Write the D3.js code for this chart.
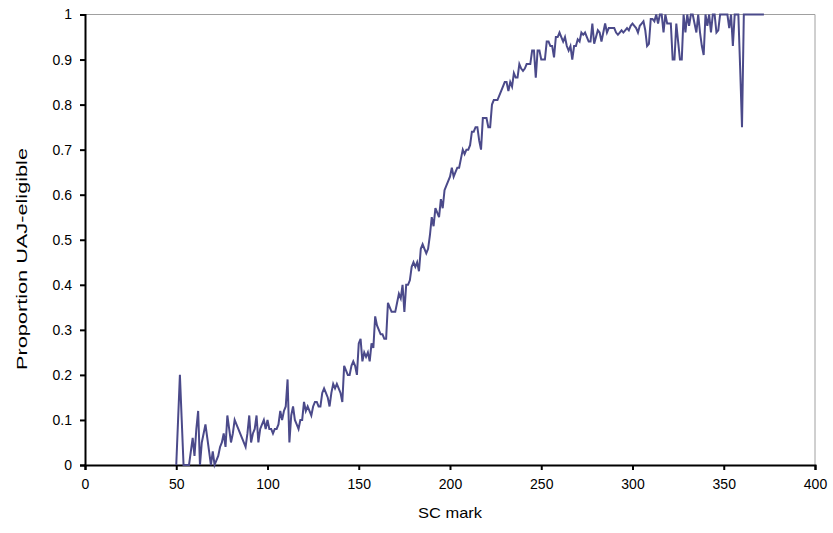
<!DOCTYPE html>
<html>
<head>
<meta charset="utf-8">
<script src="https://cdn.jsdelivr.net/npm/d3@7"></script>
<style>
  body { margin: 0; background: #fff; }
  svg { display: block; font-family: Arial, "Liberation Sans", sans-serif; }
</style>
</head>
<body>
<svg id="chart" width="833" height="533"></svg>
<script>
// SC mark of the first point, then one proportion per mark
const firstMark = 50;
const proportion = [
  0, 0.1, 0.2, 0.1, 0, 0, 0, 0, 0.03, 0.06,
  0.02, 0.08, 0.12, 0, 0.05, 0.07, 0.09, 0.06, 0.03, 0,
  0.03, 0, 0.01, 0.02, 0.04, 0.05, 0.07, 0.04, 0.11, 0.08,
  0.05, 0.07, 0.1, 0.09, 0.08, 0.07, 0.06, 0.05, 0.04, 0.07,
  0.11, 0.05, 0.07, 0.08, 0.11, 0.05, 0.08, 0.09, 0.1, 0.08,
  0.1, 0.08, 0.08, 0.07, 0.08, 0.08, 0.09, 0.12, 0.1, 0.12,
  0.13, 0.19, 0.05, 0.11, 0.13, 0.1, 0.09, 0.08, 0.1, 0.1,
  0.14, 0.12, 0.13, 0.12, 0.11, 0.13, 0.14, 0.14, 0.13, 0.13,
  0.16, 0.17, 0.16, 0.15, 0.13, 0.16, 0.18, 0.17, 0.18, 0.17,
  0.16, 0.14, 0.22, 0.21, 0.2, 0.2, 0.22, 0.23, 0.22, 0.2,
  0.27, 0.28, 0.23, 0.25, 0.24, 0.25, 0.23, 0.27, 0.26, 0.33,
  0.31, 0.3, 0.29, 0.29, 0.28, 0.28, 0.36, 0.35, 0.34, 0.34,
  0.34, 0.36, 0.38, 0.37, 0.4, 0.34, 0.4, 0.4, 0.41, 0.44,
  0.45, 0.44, 0.45, 0.43, 0.48, 0.49, 0.48, 0.47, 0.48, 0.51,
  0.55, 0.53, 0.57, 0.56, 0.55, 0.59, 0.57, 0.61, 0.62, 0.63,
  0.64, 0.66, 0.64, 0.65, 0.66, 0.66, 0.68, 0.7, 0.69, 0.7,
  0.7, 0.71, 0.74, 0.74, 0.75, 0.75, 0.72, 0.7, 0.77, 0.77,
  0.77, 0.75, 0.75, 0.8, 0.81, 0.81, 0.81, 0.82, 0.83, 0.84,
  0.85, 0.85, 0.83, 0.85, 0.84, 0.87, 0.86, 0.86, 0.89, 0.88,
  0.875, 0.88, 0.89, 0.89, 0.89, 0.92, 0.92, 0.86, 0.92, 0.92,
  0.9, 0.9, 0.9, 0.94, 0.94, 0.93, 0.93, 0.905, 0.95, 0.95,
  0.96, 0.95, 0.94, 0.95, 0.93, 0.92, 0.93, 0.9, 0.93, 0.93,
  0.945, 0.94, 0.96, 0.955, 0.96, 0.95, 0.94, 0.94, 0.98, 0.935,
  0.95, 0.965, 0.96, 0.94, 0.96, 0.98, 0.96, 0.97, 0.97, 0.97,
  0.97, 0.96, 0.955, 0.96, 0.965, 0.96, 0.965, 0.97, 0.965, 0.975,
  0.98, 0.975, 0.97, 0.96, 0.975, 0.98, 0.985, 0.965, 0.93, 0.935,
  0.99, 0.99, 0.985, 1, 0.98, 1, 1, 0.96, 1, 0.98,
  0.98, 0.98, 0.9, 0.9, 0.98, 0.94, 0.9, 0.9, 1, 0.96,
  1, 0.975, 1, 1, 0.98, 0.96, 1, 0.96, 0.93, 0.91,
  1, 0.975, 1, 0.96, 1, 1, 0.96, 0.965, 1, 1,
  1, 1, 1, 0.97, 1, 0.93, 1, 1, 1, 0.88,
  0.75, 1, 1, 1, 1, 1, 1, 1, 1, 1,
  1, 1, 1
];
const xTicks = [0, 50, 100, 150, 200, 250, 300, 350, 400];
const yTicks = [0, 0.1, 0.2, 0.3, 0.4, 0.5, 0.6, 0.7, 0.8, 0.9, 1];
const xTitle = "SC mark";
const yTitle = "Proportion UAJ-eligible";

const svg = d3.select("#chart");
const plot = { left: 85, right: 815, top: 14.5, bottom: 465 };

const x = d3.scaleLinear().domain([0, 400]).range([plot.left, plot.right]);
const y = d3.scaleLinear().domain([0, 1]).range([plot.bottom, plot.top]);

const points = proportion.map((v, i) => ({ mark: firstMark + i, value: v }));

// Grey frame on the top and right
svg.append("path")
    .attr("d", `M${plot.left},${plot.top}H${plot.right}V${plot.bottom}`)
    .attr("fill", "none")
    .attr("stroke", "#a0a0a0")
    .attr("stroke-width", 1);

// Axes
const xAxis = svg.append("g")
    .attr("transform", `translate(0,${plot.bottom})`)
    .call(d3.axisBottom(x).tickValues(xTicks).tickSize(5).tickPadding(9).tickFormat(d3.format("d")));

const yAxis = svg.append("g")
    .attr("transform", `translate(${plot.left},0)`)
    .call(d3.axisLeft(y).tickValues(yTicks).tickSize(5).tickPadding(8).tickFormat(d => d3.format("~g")(d)));

[xAxis, yAxis].forEach(g => {
    g.select(".domain").attr("stroke", "#000").attr("stroke-width", 2);
    g.selectAll(".tick line").attr("stroke", "#000").attr("stroke-width", 2);
    g.selectAll("text")
        .attr("fill", "#000")
        .style("font-size", "14px")
        .style("font-family", "Arial, 'Liberation Sans', sans-serif");
});

// Series line
const line = d3.line()
    .x(d => x(d.mark))
    .y(d => y(d.value));

svg.append("path")
    .datum(points)
    .attr("fill", "none")
    .attr("stroke", "#4b4a8a")
    .attr("stroke-width", 2)
    .attr("stroke-linejoin", "miter")
    .attr("d", line);

// Axis titles (stretched, like the original rendering)
svg.append("text")
    .attr("x", 450)
    .attr("y", 518)
    .attr("text-anchor", "middle")
    .attr("textLength", 64)
    .attr("lengthAdjust", "spacingAndGlyphs")
    .style("font-size", "15px")
    .text(xTitle);

svg.append("text")
    .attr("transform", "translate(27,259) rotate(-90)")
    .attr("text-anchor", "middle")
    .attr("textLength", 222)
    .attr("lengthAdjust", "spacingAndGlyphs")
    .style("font-size", "15px")
    .text(yTitle);
</script>
</body>
</html>
